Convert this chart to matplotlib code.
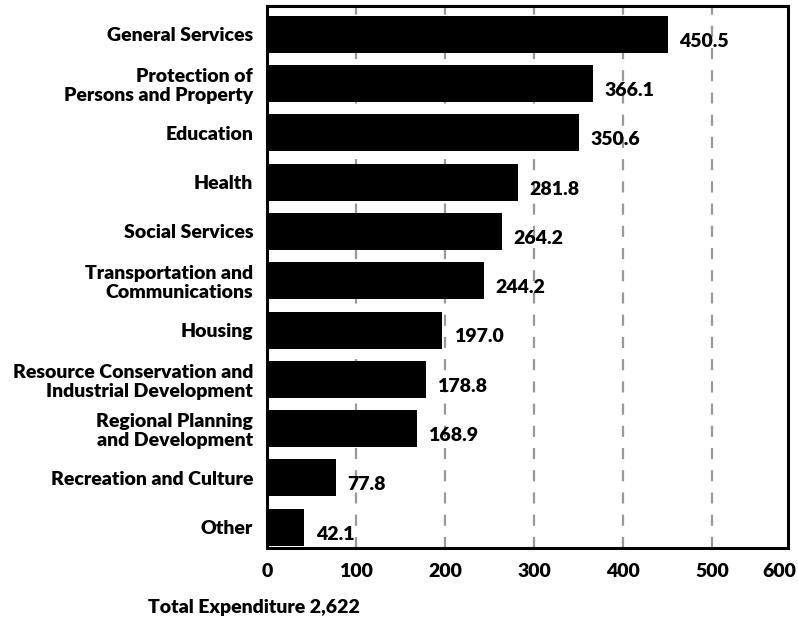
import numpy as np
import matplotlib
matplotlib.use("Agg")
from matplotlib import pyplot as plt

plt.rcParams['font.family'] = ['Lato', 'DejaVu Sans']
plt.rcParams['font.weight'] = 'heavy'
plt.rcParams['lines.scale_dashes'] = False

# spending by function
categories = [
    "General Services",
    "Protection of\nPersons and Property",
    "Education",
    "Health",
    "Social Services",
    "Transportation and\nCommunications",
    "Housing",
    "Resource Conservation and\nIndustrial Development",
    "Regional Planning\nand Development",
    "Recreation and Culture",
    "Other",
]
values = [450.5, 366.1, 350.6, 281.8, 264.2, 244.2, 197.0, 178.8, 168.9, 77.8, 42.1]
x_ticks = [0, 100, 200, 300, 400, 500, 600]
grid_at = [100, 200, 300, 400, 500]
total_label = "Total Expenditure 2,622"

fs = 14

fig = plt.figure(figsize=(7.98, 6.19), dpi=100)
ax = fig.add_axes([267 / 798, 71 / 619, 521 / 798, 542 / 619])

y = np.arange(len(categories))
ax.barh(y, values, height=0.75, color='black', zorder=2)

# dashed reference lines behind the bars
for g in grid_at:
    ax.axvline(g, color='#999999', linewidth=1.6, linestyle=(0, (8, 8)), zorder=1)

# value labels sit just right of and slightly below the bar end
for yi, v in zip(y, values):
    ax.annotate(f"{v:.1f}", xy=(v, yi), xytext=(8, -5), textcoords='offset points',
                ha='left', va='center', fontsize=fs)

xmax = 585
ax.set_xlim(0, xmax)
ax.set_ylim(len(categories) - 0.58, -0.57)

# last tick label is pulled inside the frame
ax.set_xticks([min(t, xmax - 10) for t in x_ticks], [str(t) for t in x_ticks])
ax.set_yticks(y, categories)
ax.tick_params(axis='both', length=0, labelsize=fs)
ax.tick_params(axis='x', pad=11)
ax.tick_params(axis='y', pad=10)
for lbl in ax.get_yticklabels():
    lbl.set_linespacing(1.15)

for sp in ax.spines.values():
    sp.set_linewidth(2.2)
    sp.set_color('black')

fig.text(148 / 798, 1 - 608 / 619, total_label, ha='left', va='center', fontsize=fs)

fig.savefig('out.png', dpi=100)
